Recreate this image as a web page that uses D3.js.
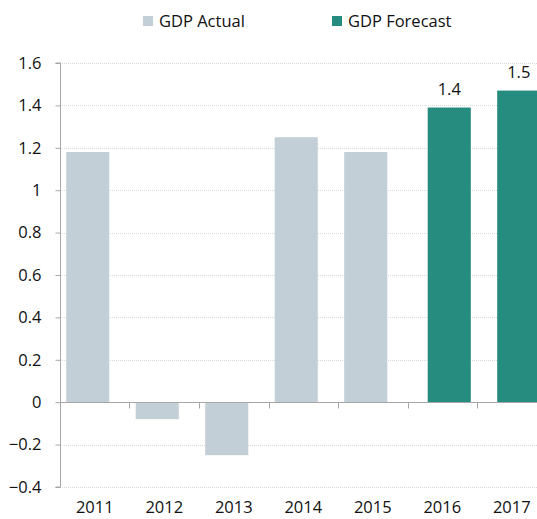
<!DOCTYPE html>
<html>
<head>
<meta charset="utf-8">
<script src="https://cdn.jsdelivr.net/npm/d3@7/dist/d3.min.js"></script>
<style>
  html, body { margin: 0; padding: 0; background: #fff; }
  svg { display: block; }
  text { font-family: "Open Sans", "Noto Sans", sans-serif; fill: #111; }
</style>
</head>
<body>
<svg id="chart" width="537" height="519"></svg>
<script>
// GDP growth by year, actual and forecast
const years = ["2011", "2012", "2013", "2014", "2015", "2016", "2017"];
const seriesNames = ["GDP Actual", "GDP Forecast"];
const actualValues = [1.18, -0.08, -0.25, 1.25, 1.18, null, null];
const forecastValues = [null, null, null, null, null, 1.39, 1.47];
const yTicks = [-0.4, -0.2, 0, 0.2, 0.4, 0.6, 0.8, 1, 1.2, 1.4, 1.6];
const colors = { "GDP Actual": "#c3cfd7", "GDP Forecast": "#268c80" };

const FONT = 16.5;
const svg = d3.select("#chart");
const margin = { left: 60, top: 63, bottom: 487 };

const x = d3.scaleBand()
  .domain(years)
  .range([margin.left, margin.left + 7 * 69.5])
  .paddingInner(0.38)
  .paddingOuter(0.19);

// sub-position of each series within a year slot
const xs = d3.scalePoint().domain(seriesNames).range([-7, 7]);

const y = d3.scaleLinear().domain([-0.4, 1.6]).range([margin.bottom, margin.top]);

// dotted gridlines
svg.append("g")
  .selectAll("line")
  .data(yTicks.filter(d => d !== 0))
  .join("line")
  .attr("x1", margin.left)
  .attr("x2", 537)
  .attr("y1", d => Math.round(y(d)) + 0.5)
  .attr("y2", d => Math.round(y(d)) + 0.5)
  .attr("stroke", "#d9d9d9")
  .attr("stroke-width", 1)
  .attr("stroke-dasharray", "1,1");

// bars
const rows = [];
years.forEach((yr, i) => {
  if (actualValues[i] != null) rows.push({ year: yr, series: "GDP Actual", value: actualValues[i] });
  if (forecastValues[i] != null) rows.push({ year: yr, series: "GDP Forecast", value: forecastValues[i] });
});

svg.append("g")
  .selectAll("rect")
  .data(rows)
  .join("rect")
  .attr("x", d => x(d.year) + xs(d.series))
  .attr("width", x.bandwidth())
  .attr("y", d => y(Math.max(0, d.value)))
  .attr("height", d => Math.abs(y(d.value) - y(0)))
  .attr("fill", d => colors[d.series]);

// value labels on forecast bars
const fmt = d3.format(".1f");
svg.append("g")
  .selectAll("text")
  .data(rows.filter(d => d.series === "GDP Forecast"))
  .join("text")
  .attr("x", d => x(d.year) + xs(d.series) + x.bandwidth() / 2)
  .attr("y", d => y(d.value) - 13)
  .attr("text-anchor", "middle")
  .attr("font-size", FONT)
  .text(d => fmt(d.value));

// y axis
const yAxis = d3.axisLeft(y)
  .tickValues(yTicks)
  .tickSize(5)
  .tickPadding(14)
  .tickFormat(d => d3.format("")(+d.toFixed(1)));
const yg = svg.append("g")
  .attr("transform", `translate(${margin.left + 0.5},0)`)
  .call(yAxis);
yg.select(".domain").attr("stroke", "#a6a6a6").attr("d", `M-5,${y(1.6)}H0V${y(-0.4)}H-5`);
yg.selectAll(".tick line").attr("stroke", "#a6a6a6");
yg.selectAll(".tick text").attr("font-size", FONT).attr("fill", "#111").attr("font-family", "'Open Sans', sans-serif");

// x axis line at zero with boundary ticks
const zeroY = Math.round(y(0)) + 0.5;
svg.append("line")
  .attr("x1", margin.left).attr("x2", 537)
  .attr("y1", zeroY).attr("y2", zeroY)
  .attr("stroke", "#a6a6a6");
svg.append("g")
  .selectAll("line")
  .data(years.slice(1))
  .join("line")
  .attr("x1", d => Math.round(x(d) - x.step() * x.paddingInner() / 2) + 0.5)
  .attr("x2", d => Math.round(x(d) - x.step() * x.paddingInner() / 2) + 0.5)
  .attr("y1", zeroY).attr("y2", zeroY + 6)
  .attr("stroke", "#a6a6a6");

// year labels along the bottom
svg.append("g")
  .selectAll("text")
  .data(years)
  .join("text")
  .attr("x", d => x(d) + x.bandwidth() / 2)
  .attr("y", 513)
  .attr("text-anchor", "middle")
  .attr("font-size", FONT)
  .text(d => d);

// legend
const legendPos = [143, 332];
const lg = svg.append("g")
  .selectAll("g")
  .data(seriesNames)
  .join("g")
  .attr("transform", (d, i) => `translate(${legendPos[i]},16)`);
lg.append("rect").attr("width", 10).attr("height", 10).attr("fill", d => colors[d]);
lg.append("text")
  .attr("x", 16).attr("y", 5).attr("dy", "0.35em")
  .attr("font-size", FONT)
  .text(d => d);
</script>
</body>
</html>
